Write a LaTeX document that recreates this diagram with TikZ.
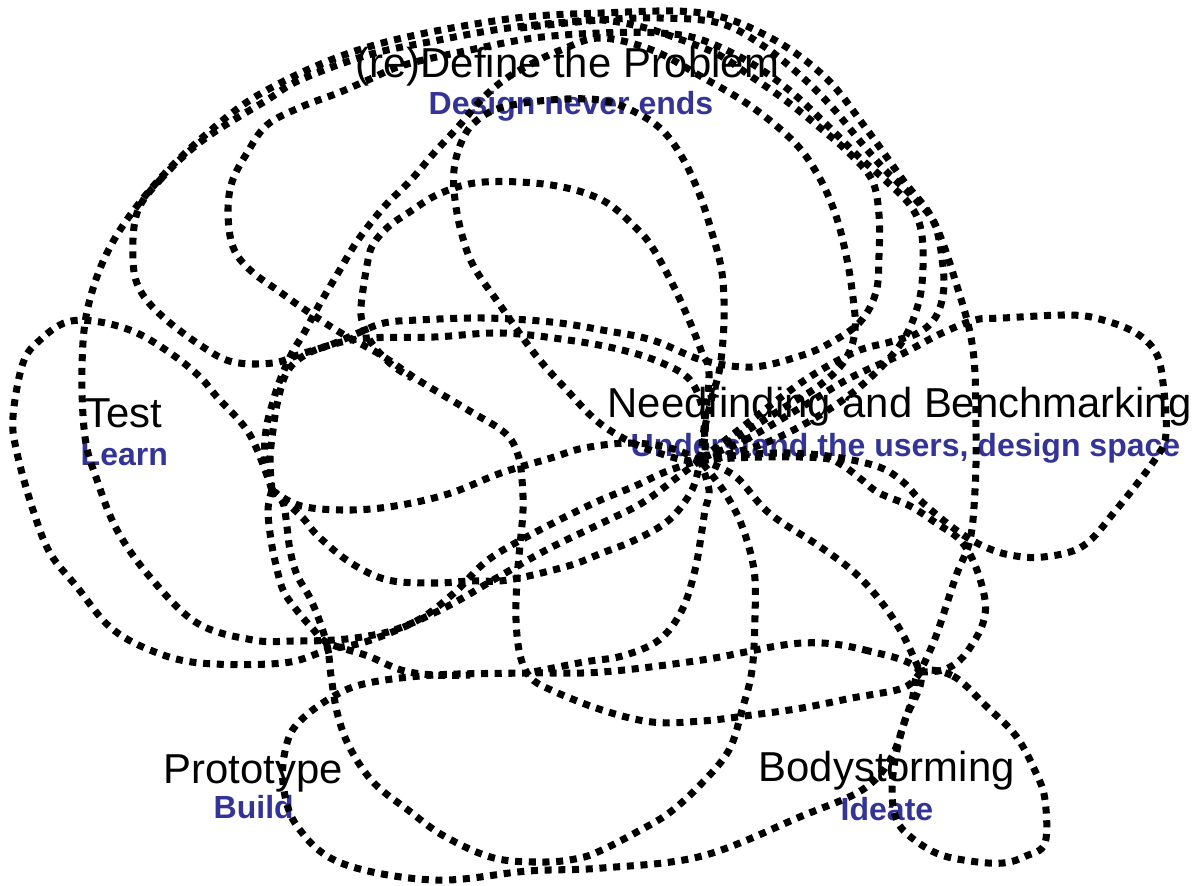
\documentclass[tikz,border=0pt]{standalone}
\usepackage{fontspec}
\setmainfont{Liberation Sans}
\definecolor{subc}{RGB}{51,51,153}
\begin{document}
\begin{tikzpicture}[x=0.01cm,y=-0.01cm,
  dot/.style={line width=2pt, dash pattern=on 2pt off 1.9pt, line cap=butt, line join=round},
  ttl/.style={anchor=base west, inner sep=0pt, font=\fontsize{11.9}{14}\selectfont},
  sbt/.style={anchor=base west, inner sep=0pt, font=\fontsize{9.1}{11}\selectfont\bfseries, text=subc}]
\useasboundingbox (0,0) rectangle (1204,885);
% labels
\node[ttl] (def) at (355,78) {(re)Define the Problem};
\node[sbt] (defs) at (428,115) {Design never ends};
\node[ttl] (tst) at (85,427) {Test};
\node[sbt] (tsts) at (80,465) {Learn};
\node[ttl] (nf) at (607,417) {Needfinding and Benchmarking};
\node[sbt] (nfs) at (630,456) {Understand the users, design space};
\node[ttl] (pro) at (163,783) {Prototype};
\node[sbt] (pros) at (213,818) {Build};
\node[ttl] (bod) at (758,781) {Bodystorming};
\node[sbt] (bods) at (840,820) {Ideate};
% hubs
\coordinate (T) at (272,490);
\coordinate (N) at (700,460);
\coordinate (B) at (920,672);
\coordinate (P) at (328,643);
% C1 outer
\draw[dot] plot[smooth,tension=0.6] coordinates {(700,460) (679,476) (642,503) (602,523) (550,548) (500,576) (450,605) (400,628) (368,636) (334,640) (293,641) (253,640) (197,623) (150,577) (117,530) (97,480) (85,437) (82,367) (88,307) (110,247) (150,190) (203,137) (267,90) (368,47) (501,20) (602,13) (702,13) (769,37) (825,77) (865,127) (903,180) (933,220) (956,283) (973,350) (976,433) (975,490) (970,540) (956,576) (936,636) (920,672)};
% Arc A (Test petal)
\draw[dot] plot[smooth,tension=0.6] coordinates {(272,490) (250,435) (217,397) (200,377) (173,355) (137,333) (100,322) (67,322) (40,340) (23,363) (13,417) (17,453) (33,510) (50,553) (77,587) (110,627) (150,650) (200,663) (283,663) (328,650) (368,641) (418,620) (454,593) (488,560) (534,533) (594,503) (635,486) (665,472) (700,460)};
% Define loop
\draw[dot] plot[smooth cycle,tension=0.6] coordinates {(137,213) (160,180) (203,140) (267,100) (300,80) (368,55) (434,41) (501,29) (568,22) (602,20) (642,27) (682,40) (719,55) (752,77) (785,100) (819,127) (849,153) (872,180) (879,215) (879,255) (876,292) (860,322) (830,343) (800,356) (752,367) (702,360) (652,340) (602,330) (551,322) (484,318) (418,320) (384,323) (358,333) (330,345) (301,354) (273,363) (233,362) (203,347) (163,317) (140,290) (133,260)};
% T up -> N
\draw[dot] plot[smooth,tension=0.6] coordinates {(272,490) (270,460) (273,430) (278,400) (287,372) (305,355) (334,344) (368,338) (434,337) (501,333) (568,340) (622,350) (662,363) (690,380) (703,410) (705,435) (700,460)};
% K1 T -> top -> x850 -> N
\draw[dot] plot[smooth,tension=0.6] coordinates {(272,490) (265,460) (266,430) (272,405) (280,380) (292,353) (304,333) (318,307) (338,273) (358,240) (384,207) (411,180) (434,153) (458,127) (481,100) (504,80) (531,64) (561,50) (600,38) (652,50) (702,77) (752,107) (795,143) (819,177) (835,213) (845,250) (852,290) (855,330) (845,360) (820,385) (780,410) (740,435) (700,460)};
% x921 curve N -> top -> S3 -> B
\draw[dot] plot[smooth,tension=0.6] coordinates {(700,460) (760,445) (815,418) (862,385) (900,345) (918,305) (923,267) (921,230) (910,205) (885,180) (859,157) (829,127) (789,90) (749,62) (702,40) (660,33) (600,33) (534,38) (470,50) (404,65) (368,80) (338,93) (301,107) (267,125) (247,153) (232,182) (228,213) (233,247) (250,270) (280,292) (301,307) (341,333) (381,355) (418,380) (468,410) (505,433) (518,455) (522,480) (523,510) (520,545) (517,580) (516,620) (520,655) (530,677) (551,690) (602,710) (652,722) (702,721) (752,715) (802,708) (852,698) (903,688) (920,672)};
% x943 curve
\draw[dot] plot[smooth,tension=0.6] coordinates {(520,28) (600,20) (660,18) (719,23) (762,45) (802,77) (832,107) (859,140) (885,170) (916,200) (935,225) (943,267) (943,295) (935,318) (918,333) (890,342) (855,352) (805,380) (745,425) (700,460)};
% K2/K3 loop
\draw[dot] plot[smooth cycle,tension=0.6] coordinates {(700,460) (705,427) (712,397) (720,367) (724,320) (722,273) (712,233) (699,193) (682,157) (662,130) (635,112) (600,100) (550,100) (500,108) (474,123) (461,143) (454,170) (455,200) (462,235) (474,267) (500,305) (534,353) (564,387) (602,425) (650,450)};
% K4
\draw[dot] plot[smooth,tension=0.6] coordinates {(700,460) (709,377) (702,353) (689,320) (672,283) (652,247) (635,227) (602,200) (551,185) (484,182) (441,193) (408,213) (388,227) (374,243) (368,260) (361,307) (364,327) (373,345) (392,365) (412,378)};
% T -> N upper
\draw[dot] plot[smooth,tension=0.6] coordinates {(272,490) (301,506) (351,510) (401,505) (451,493) (501,473) (551,458) (584,448) (630,443) (670,448) (700,460)};
% T -> N lower
\draw[dot] plot[smooth,tension=0.6] coordinates {(272,490) (301,516) (318,536) (351,563) (388,580) (434,583) (470,581) (508,580) (568,566) (602,553) (635,540) (669,520) (692,490) (700,460)};
% T -> down -> N
\draw[dot] plot[smooth,tension=0.6] coordinates {(272,490) (283,503) (287,527) (290,550) (297,575) (310,598) (321,625) (328,650) (331,676) (338,716) (351,750) (374,783) (408,810) (444,836) (494,858) (545,862) (580,858) (602,850) (635,833) (669,813) (702,783) (729,750) (742,710) (752,670) (755,616) (754,570) (742,526) (725,493) (700,460)};
% T -> P -> lens
\draw[dot] plot[smooth,tension=0.6] coordinates {(272,490) (268,510) (271,540) (276,565) (283,590) (295,608) (312,628) (328,643) (368,656) (401,670) (434,675) (470,675)};
% P-B lens
\draw[dot] plot[smooth cycle,tension=0.6] coordinates {(920,672) (869,651) (802,643) (702,660) (602,672) (528,673) (434,675) (368,683) (334,696) (301,720) (287,743) (283,783) (297,826) (341,863) (434,880) (528,871) (602,868) (702,856) (802,816) (862,790) (890,760) (905,720)};
% N -> P
\draw[dot] plot[smooth,tension=0.6] coordinates {(700,460) (709,490) (705,510) (702,530) (695,570) (682,610) (659,640) (622,656) (584,662) (528,673)};
% N -> B direct
\draw[dot] plot[smooth,tension=0.6] coordinates {(700,460) (735,476) (769,513) (819,546) (855,573) (882,603) (903,635) (920,672)};
% N petal
\draw[dot] plot[smooth cycle,tension=0.6] coordinates {(700,460) (745,440) (800,408) (850,378) (900,355) (940,334) (975,320) (1003,318) (1070,315) (1103,320) (1136,333) (1156,353) (1163,383) (1166,433) (1156,458) (1116,510) (1083,546) (1043,557) (1010,555) (983,546) (956,530) (923,503) (903,482) (879,467) (835,457) (789,453) (740,455)};
% N -> B right lens
\draw[dot] plot[smooth,tension=0.6] coordinates {(700,460) (760,457) (822,458) (842,465) (862,480) (879,493) (910,506) (936,523) (960,540) (975,565) (985,600) (983,623) (973,643) (960,660) (943,670) (920,672)};
% B petal
\draw[dot] plot[smooth cycle,tension=0.6] coordinates {(920,672) (953,676) (986,706) (1016,736) (1036,773) (1045,800) (1045,843) (1026,856) (1003,863) (970,861) (936,853) (906,833) (895,815) (892,790) (895,760) (902,730) (912,700)};
\end{tikzpicture}
\end{document}
